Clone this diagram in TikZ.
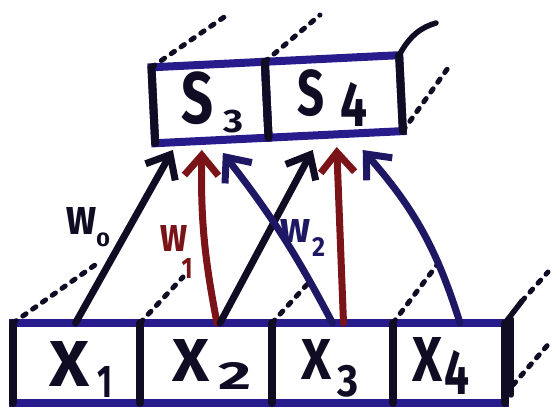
\documentclass[tikz,border=0pt]{standalone}
\usepackage{fontspec}
\setmainfont{Fira Sans}
\usepackage{graphicx}
\usetikzlibrary{arrows.meta}
\definecolor{navy}{RGB}{40,28,140}
\definecolor{ink}{RGB}{15,12,35}
\definecolor{wred}{RGB}{122,20,24}
\definecolor{anavy}{RGB}{30,24,100}
\newcommand{\gl}[3]{\resizebox*{#1pt}{#2pt}{#3}}
\begin{document}
\begin{tikzpicture}[x=1pt,y=1pt,
  cell/.style={draw=navy, line width=8pt, inner sep=0pt, outer sep=0pt},
  vedge/.style={draw=ink, line width=8pt, line cap=round},
  depth/.style={draw=ink, line width=5pt, line cap=round, dash pattern=on 4pt off 8pt},
  solidedge/.style={draw=ink, line width=5.5pt, line cap=round},
  txt/.style={inner sep=0pt, outer sep=0pt, font=\bfseries\fontsize{40}{40}\selectfont, text=ink},
  wire/.style={line width=7pt, line cap=round, -{Straight Barb[length=20pt,width=34pt]}},
  blackwire/.style={wire, draw=ink},
  redwire/.style={wire, draw=wred},
  navywire/.style={wire, draw=anavy}]
\useasboundingbox (0,0) rectangle (555,409);

% bottom row of cells
\node[cell, minimum width=127pt, minimum height=80pt] (x1) at (76.5,46) {};
\node[cell, minimum width=132pt, minimum height=80pt] (x2) at (206,46) {};
\node[cell, minimum width=121pt, minimum height=80pt] (x3) at (332.5,46) {};
\node[cell, minimum width=112pt, minimum height=80pt] (x4) at (449,46) {};
\foreach \n in {x1,x2,x3,x4} \draw[vedge] (\n.north west) -- (\n.south west);
\draw[vedge] (x4.north east) -- (x4.south east);

% top row of cells
\node[cell, minimum width=113.5pt, minimum height=76pt, rotate=2.8] (s3) at (210,306.5) {};
\node[cell, minimum width=134.5pt, minimum height=76pt, rotate=2.8, anchor=west] (s4) at (s3.east) {};
\draw[vedge] (s3.north west) -- (s3.south west);
\draw[vedge] (s3.north east) -- (s3.south east);
\draw[vedge] (s4.north east) -- (s4.south east);

% depth edges, bottom
\coordinate (bx1) at (95,144);
\coordinate (bx2) at (183,132);
\coordinate (bx3) at (312,130);
\coordinate (bx4) at (443,152);
\coordinate (bx5) at (548,137);
\coordinate (bx6a) at (511,90);
\coordinate (bx6b) at (511,14);
\coordinate (bx7a) at (513,24);
\coordinate (bx7b) at (552,69);
\draw[depth] (x1.north west) -- (bx1);
\draw[depth] (x2.north west) -- (bx2);
\draw[depth] (x3.north west) -- (bx3);
\draw[depth] (x4.north west) -- (bx4);
\draw[solidedge] (x4.north east) -- (522,108);
\draw[depth] (522,108) -- (bx5);
\draw[solidedge] (bx6a) -- (bx6b);
\draw[depth] (bx7a) -- (bx7b);

% depth edges, top
\coordinate (tx1) at (230,396);
\coordinate (tx2) at (320,394);
\coordinate (tx3) at (436,386);
\coordinate (tx4) at (448,341);
\draw[depth] (s3.north west) -- (tx1);
\draw[depth] (s3.north east) -- (tx2);
\draw[solidedge] (s4.north east) .. controls (410,374) and (422,382) .. (tx3);
\draw[depth] (s4.south east) -- (tx4);

% labels in cells
\node[txt] (lx1) at (70,44.5) {\gl{40}{45}{X}};
\node[txt] (lx1s) at (105,26.5) {\gl{15}{31}{1}};
\node[txt] (lx2) at (191.5,48) {\gl{37}{42}{X}};
\node[txt] (lx2s) at (234.5,32.5) {\gl{33}{27}{2}};
\node[txt] (lx3) at (316,49) {\gl{30}{40}{X}};
\node[txt] (lx3s) at (347.5,28) {\gl{21}{32}{3}};
\node[txt] (lx4) at (427.5,49) {\gl{30}{44}{X}};
\node[txt] (lx4s) at (457,36) {\gl{25}{44}{4}};
\node[txt] (ls3) at (197.5,310.5) {\gl{32}{53}{S}};
\node[txt] (ls3s) at (233,287.5) {\gl{20}{23}{3}};
\node[txt] (ls4) at (310.5,315.5) {\gl{27}{47}{S}};
\node[txt] (ls4s) at (353.5,304) {\gl{27}{44}{4}};

% connectors
\draw[blackwire] ([xshift=-1pt]x1.north) -- ([xshift=-39pt,yshift=-9.5pt]s3.south);
\draw[redwire] ([xshift=11pt]x2.north) to[bend left=6] ([xshift=-10pt,yshift=-9.5pt]s3.south);
\draw[blackwire] ([xshift=14pt]x2.north) -- ([xshift=-23pt,yshift=-15.6pt]s4.south);
\draw[navywire] (x3.north) to[bend right=5] ([xshift=11pt,yshift=-12.5pt]s3.south);
\draw[redwire] ([xshift=11pt]x3.north) -- ([xshift=1pt,yshift=-12.6pt]s4.south);
\draw[navywire] ([xshift=11pt]x4.north) to[bend right=12] ([xshift=27pt,yshift=-15.6pt]s4.south);

% weight labels
\node[txt] (lw0) at (82,187.5) {\gl{30}{27}{w}};
\node[txt] (lw0s) at (103,169) {\gl{14}{14}{0}};
\node[txt, text=wred] (lw1) at (173.5,170) {\gl{27}{26}{w}};
\node[txt, text=wred] (lw1s) at (187,140) {\gl{11}{20}{1}};
\node[txt, text=anavy] (lw2) at (295,177.5) {\gl{30}{23}{w}};
\node[txt, text=anavy] (lw2s) at (318.5,161.5) {\gl{13}{19}{2}};
\end{tikzpicture}
\end{document}
